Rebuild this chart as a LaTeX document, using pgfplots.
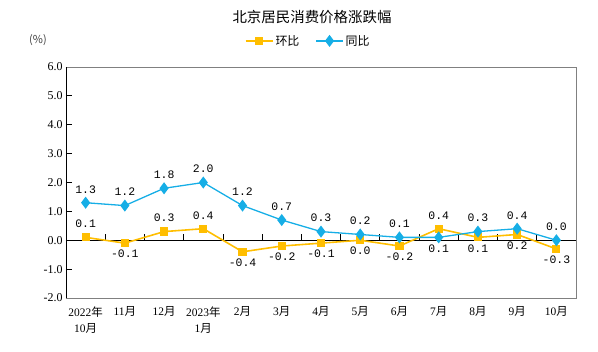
\documentclass[border=0pt]{standalone}
\usepackage{fontspec}
\setmainfont{Liberation Serif}
\newfontfamily\cjk{Noto Sans CJK SC}
\newfontfamily\mono{Liberation Mono}
\usepackage{pgfplots}
\usepackage{pgfplotstable}
\pgfplotsset{compat=1.18}
\definecolor{cyel}{RGB}{255,190,0}
\definecolor{cblue}{RGB}{22,174,230}

\pgfplotstableread{
x y lab dy
0 1.3 1.3 13.5
1 1.2 1.2 13.5
2 1.8 1.8 13.5
3 2.0 2.0 13.5
4 1.2 1.2 13.5
5 0.7 0.7 13.5
6 0.3 0.3 13.5
7 0.2 0.2 13.5
8 0.1 0.1 13.5
9 0.1 0.1 -11
10 0.3 0.3 13.5
11 0.4 0.4 13.5
12 0.0 0.0 13.5
}\yoy

\pgfplotstableread{
x y lab dy
0 0.1 0.1 13.5
1 -0.1 -0.1 -11
2 0.3 0.3 13.5
3 0.4 0.4 13.5
4 -0.4 -0.4 -11
5 -0.2 -0.2 -11
6 -0.1 -0.1 -11
7 0.0 0.0 -11
8 -0.2 -0.2 -11
9 0.4 0.4 13.5
10 0.1 0.1 -11
11 0.2 0.2 -11
12 -0.3 -0.3 -11
}\mom

\begin{document}
\begin{tikzpicture}
\useasboundingbox (-66bp,-54bp) rectangle (532bp,298bp);
\begin{axis}[
  at={(0,0)}, anchor=south west,
  scale only axis, width=510bp, height=231bp,
  xmin=-0.5, xmax=12.5, ymin=-2, ymax=6,
  clip=false,
  axis line style={draw=gray, line width=0.8pt},
  xtick={0,...,12},
  xticklabels={
    {2022{\cjk 年}\\10{\cjk 月}},
    {11{\cjk 月}},
    {12{\cjk 月}},
    {2023{\cjk 年}\\1{\cjk 月}},
    {2{\cjk 月}},
    {3{\cjk 月}},
    {4{\cjk 月}},
    {5{\cjk 月}},
    {6{\cjk 月}},
    {7{\cjk 月}},
    {8{\cjk 月}},
    {9{\cjk 月}},
    {10{\cjk 月}}},
  x tick style={draw=none},
  xticklabel style={align=center, font=\fontsize{11.5}{16}\selectfont, yshift=-5bp},
  ytick={-2,-1,...,6},
  ytick pos=left,
  tick align=inside,
  major tick length=6bp,
  y tick style={black, line width=0.8pt},
  /pgf/number format/assume math mode=true,
  yticklabel style={/pgf/number format/.cd, fixed, fixed zerofill, precision=1, /tikz/.cd, font=\fontsize{12}{12}\selectfont},
  legend columns=2,
  legend style={draw=none, fill=none, at={(0.475,1.113)}, anchor=center,
    font=\cjk\fontsize{12}{12}\selectfont,
    /tikz/every even column/.append style={column sep=14bp}},
  legend image code/.code={\draw[mark repeat=2,mark phase=2] plot coordinates {(0bp,0bp)(13.5bp,0bp)(27bp,0bp)};},
]
\draw[black, line width=0.8pt] (rel axis cs:0,0) -- (rel axis cs:0,1);
\draw[black, line width=0.8pt] (axis cs:-0.5,0) -- (axis cs:12.5,0);
\draw[black, line width=0.8pt]
  (axis cs:0.5,0) -- (axis cs:0.5,0.21) (axis cs:1.5,0) -- (axis cs:1.5,0.21)
  (axis cs:2.5,0) -- (axis cs:2.5,0.21) (axis cs:3.5,0) -- (axis cs:3.5,0.21)
  (axis cs:4.5,0) -- (axis cs:4.5,0.21) (axis cs:5.5,0) -- (axis cs:5.5,0.21)
  (axis cs:6.5,0) -- (axis cs:6.5,0.21) (axis cs:7.5,0) -- (axis cs:7.5,0.21)
  (axis cs:8.5,0) -- (axis cs:8.5,0.21) (axis cs:9.5,0) -- (axis cs:9.5,0.21)
  (axis cs:10.5,0) -- (axis cs:10.5,0.21) (axis cs:11.5,0) -- (axis cs:11.5,0.21);

\addplot[cyel, line width=1.6pt, mark=square*, mark size=3.3bp, mark options={solid},
  nodes near coords, point meta=explicit symbolic,
  visualization depends on={\thisrow{dy} \as \dy},
  every node near coord/.style={anchor=center, yshift=\dy, inner sep=0pt, text=black, font=\mono\fontsize{11.5}{11.5}\selectfont}]
  table[x=x, y=y, meta=lab] {\mom};
\addlegendentry{环比}
\addplot[cblue, line width=1.3pt, mark=diamond*, mark size=5bp, mark options={solid},
  nodes near coords, point meta=explicit symbolic,
  visualization depends on={\thisrow{dy} \as \dy},
  every node near coord/.style={anchor=center, yshift=\dy, inner sep=0pt, text=black, font=\mono\fontsize{11.5}{11.5}\selectfont}]
  table[x=x, y=y, meta=lab] {\yoy};
\addlegendentry{同比}
\end{axis}
\node[font=\cjk\fontsize{14.5}{14.5}\selectfont] at (246bp,281bp) {北京居民消费价格涨跌幅};
\node[font=\cjk\fontsize{11}{11}\selectfont, text=black!75] at (-28bp,258bp) {(\%)};
\end{tikzpicture}
\end{document}
